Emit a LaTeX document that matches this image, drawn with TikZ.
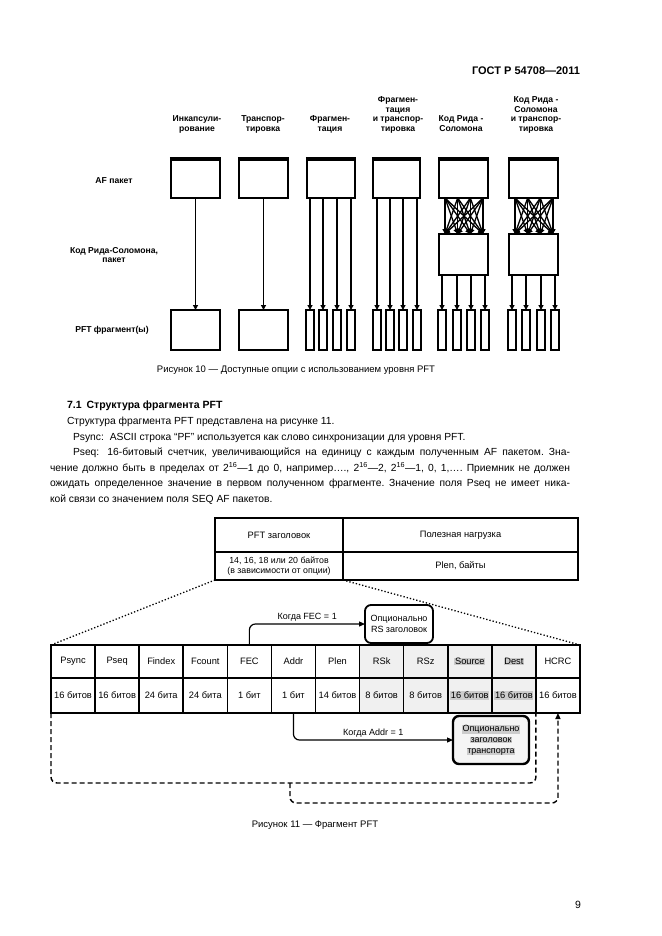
\documentclass[tikz,border=0pt]{standalone}
\usepackage{fontspec}
\setmainfont{Liberation Sans}
\usetikzlibrary{arrows.meta,calc}
\newcommand\myfs[2]{\fontsize{#1}{#2}\selectfont}
\newcommand\graybg[1]{{\setlength{\fboxsep}{0.6pt}\colorbox{gray!40}{#1}}}
\frenchspacing
\begin{document}
\begin{tikzpicture}[x=1pt,y=-1pt,
  every node/.style={inner sep=0pt, outer sep=0pt},
  lbl/.style={font=\myfs{8.6}{9.4}\bfseries, align=center},
  afbox/.style={draw, line width=2.4, anchor=north west, minimum height=40},
  rsbox/.style={draw, line width=1.8, anchor=north west, minimum width=49, minimum height=41},
  bigfrag/.style={draw, line width=2.4, anchor=north west, minimum width=49, minimum height=40},
  frag/.style={draw, line width=1.6, anchor=north west, minimum width=8, minimum height=40},
  varr/.style={line width=1.8, -{Triangle[width=4.8pt,length=4.8pt]}},
  xarr/.style={line width=1.3, -{Triangle[width=5pt,length=5pt]}},
  cell/.style={draw, line width=1.6, anchor=north west, align=center, font=\myfs{9.3}{10.5}},
  rbox/.style={draw, line width=1.8, rounded corners=6, align=center, font=\myfs{9}{10.8}},
  farr/.style={line width=1.2, -{Triangle[width=5pt,length=6pt]}},
  loopline/.style={line width=1.4, dash pattern=on 5pt off 3pt},
  bodyf/.style={font=\myfs{10.3}{12}},
]
\fill[white] (0,0) rectangle (661,936);
\useasboundingbox (0,0) rectangle (661,936);

% header
\node[anchor=base east, font=\myfs{11}{12}\bfseries] (hdr) at (580,75) {ГОСТ Р 54708—2011};

% ---------- Figure 10 ----------
\node[lbl, anchor=south] (l1) at (197,134) {Инкапсули-\\рование\strut};
\node[lbl, anchor=south] (l2) at (263,134) {Транспор-\\тировка\strut};
\node[lbl, anchor=south] (l3) at (330,134) {Фрагмен-\\тация\strut};
\node[lbl, anchor=south] (l4) at (398,134) {Фрагмен-\\тация\\и транспор-\\тировка\strut};
\node[lbl, anchor=south] (l5) at (461,134) {Код Рида -\\Соломона\strut};
\node[lbl, anchor=south] (l6) at (536,134) {Код Рида -\\Соломона\\и транспор-\\тировка\strut};

\node[lbl] (rowa) at (114,181) {AF пакет};
\node[lbl] (rowb) at (114,255) {Код Рида-Соломона,\\пакет};
\node[lbl] (rowc) at (112,330) {PFT фрагмент(ы)};

\node[afbox, minimum width=49] (af1) at (171,158) {};
\node[afbox, minimum width=49] (af2) at (239,158) {};
\node[afbox, minimum width=48] (af3) at (307,158) {};
\node[afbox, minimum width=47] (af4) at (373,158) {};
\node[afbox, minimum width=49] (af5) at (439,158) {};
\node[afbox, minimum width=49] (af6) at (509,158) {};
\foreach \n in {af1,af2,af3,af4,af5,af6}{
  \draw[line width=4.2] ($(\n.north west)+(-1.2,1)$) -- ($(\n.north east)+(1.2,1)$);
}
\node[rsbox] (rs5) at (439,234) {};
\node[rsbox] (rs6) at (509,234) {};

\node[bigfrag] (f1) at (171,310) {};
\node[bigfrag] (f2) at (239,310) {};
\foreach \x [count=\i] in {306,319,333,347} \node[frag] (f3-\i) at (\x,310) {};
\foreach \x [count=\i] in {373,386,399,413} \node[frag] (f4-\i) at (\x,310) {};
\foreach \x [count=\i] in {438,453,467,481} \node[frag] (f5-\i) at (\x,310) {};
\foreach \x [count=\i] in {508,522,537,551} \node[frag] (f6-\i) at (\x,310) {};

\draw[varr] (af1.south) -- (f1.north);
\draw[varr] (af2.south) -- (f2.north);
\foreach \i in {1,...,4}{
  \draw[varr] (af3.south -| f3-\i.north) -- (f3-\i.north);
  \draw[varr] (af4.south -| f4-\i.north) -- (f4-\i.north);
  \draw[varr] (rs5.south -| f5-\i.north) -- (f5-\i.north);
  \draw[varr] (rs6.south -| f6-\i.north) -- (f6-\i.north);
}
\foreach \i in {0,...,3}{
  \foreach \j in {0,...,3}{
    \draw[xarr] ($(af5.south west)+(6+12.67*\i,0)$) -- ($(rs5.north west)+(6+12.67*\j,0)$);
    \draw[xarr] ($(af6.south west)+(6+12.67*\i,0)$) -- ($(rs6.north west)+(6+12.67*\j,0)$);
  }
}

\node[font=\myfs{9.5}{11}] (cap10) at (296,370) {Рисунок 10 — Доступные опции с использованием уровня PFT};

% ---------- text ----------
\node[anchor=base west, font=\myfs{10.5}{12}\bfseries] (sec) at (67,408) {7.1\hspace{5pt}Структура фрагмента PFT};
\node[anchor=base west, bodyf] (p1) at (67,424) {Структура фрагмента PFT представлена на рисунке 11.};
\node[anchor=base west, bodyf] (p2) at (73,440) {Psync:\hspace{3pt} ASCII строка “PF” используется как слово синхронизации для уровня PFT.};
\node[anchor=base west, bodyf] (p3) at (73,455) {\makebox[497pt][s]{Pseq:\hspace{3pt} 16-битовый счетчик, увеличивающийся на единицу с каждым полученным AF пакетом. Зна-}};
\node[anchor=base west, bodyf] (p4) at (50,471) {\makebox[520pt][s]{чение должно быть в пределах от 2\textsuperscript{16}—1 до 0, например…., 2\textsuperscript{16}—2, 2\textsuperscript{16}—1, 0, 1,…. Приемник не должен}};
\node[anchor=base west, bodyf] (p5) at (50,486) {\makebox[520pt][s]{ожидать определенное значение в первом полученном фрагменте. Значение поля Pseq не имеет ника-}};
\node[anchor=base west, bodyf] (p6) at (50,502) {кой связи со значением поля SEQ AF пакетов.};

% ---------- Figure 11 ----------
\node[cell, minimum width=128, minimum height=34] (h1) at (215,518) {PFT заголовок};
\node[cell, minimum width=235, minimum height=34] (h2) at (343,518) {Полезная нагрузка};
\node[cell, minimum width=128, minimum height=28, font=\myfs{8.8}{10.5}] (h3) at (215,552) {14, 16, 18 или 20 байтов\\(в зависимости от опции)};
\node[cell, minimum width=235, minimum height=28] (h4) at (343,552) {Plen, байты};

\foreach \lab/\bits/\fc [count=\i] in {Psync/16 битов/white, Pseq/16 битов/white, Findex/24 бита/white, Fcount/24 бита/white, FEC/1 бит/white, Addr/1 бит/white, Plen/14 битов/white, RSk/8 битов/gray!12, RSz/8 битов/gray!12, \graybg{Source}/\graybg{16 битов}/gray!12, \graybg{Dest}/\graybg{16 битов}/gray!12, HCRC/16 битов/white}{
  \node[cell, fill=\fc, minimum width=44.083, minimum height=33] (c\i) at ({51+44.083*(\i-1)},645) {\lab};
  \node[cell, fill=\fc, minimum width=44.083, minimum height=35] (d\i) at ({51+44.083*(\i-1)},678) {\bits};
}

\draw[dotted, line width=1.3] (h3.south west) -- (c1.north west);
\draw[dotted, line width=1.3] (h3.south east) -- (c12.north east);

\node[rbox, fill=white, minimum width=68, minimum height=38] (rsh) at (399,624) {Опционально\\RS заголовок};
\draw[farr, rounded corners=6] (c5.north) |- node[pos=0.75, above=3pt, font=\myfs{9}{10}] {Когда FEC = 1} (rsh.west);

\node[rbox, line width=2.4, fill=gray!8, minimum width=76, minimum height=48] (tr) at (491,740) {\graybg{Опционально}\\\graybg{заголовок}\\\graybg{транспорта}};
\draw[farr, rounded corners=6] (d6.south) |- node[pos=0.75, above=3pt, font=\myfs{9}{10}] {Когда Addr = 1} (tr.west);

\draw[loopline, rounded corners=6] (d1.south west) -- ++(0,70) -| (d11.south east);
\coordinate (lm) at (290,783);
\draw[loopline, rounded corners=6, -{Triangle[width=5pt,length=6pt]}] (lm) -- ++(0,20) -| (d12.south);

\node[font=\myfs{9.5}{11}] (cap11) at (315,825) {Рисунок 11 — Фрагмент PFT};

\node[font=\myfs{10.5}{12}] (pg) at (578,905) {9};
\end{tikzpicture}
\end{document}
